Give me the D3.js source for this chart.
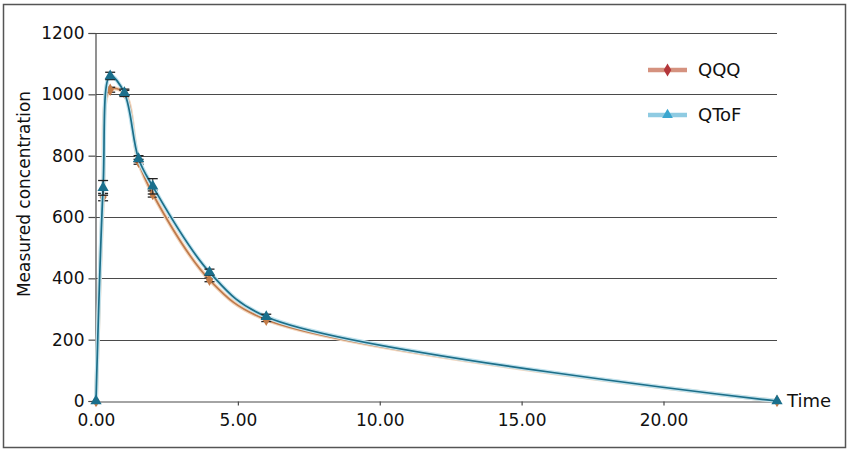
<!DOCTYPE html>
<html>
<head>
<meta charset="utf-8">
<script src="https://cdn.jsdelivr.net/npm/d3@7"></script>
<style>
  body { margin: 0; background: #fff; }
  svg text { font-family: "DejaVu Sans", Verdana, sans-serif; fill: #111; }
</style>
</head>
<body>
<div id="chart"></div>
<script>
// ***** DATA *****
var times = [0, 0.25, 0.5, 1, 1.5, 2, 4, 6, 24];
var qqqValues = [0, 665, 1015, 1005, 780, 675, 395, 265, 0];
var qtofValues = [0, 695, 1060, 1005, 790, 700, 420, 275, 0];
var qqqErrors = [0, 12, 8, 8, 8, 10, 6, 6, 0];
var qtofErrors = [0, 24, 12, 12, 10, 25, 10, 8, 0];
var yTicks = [0, 200, 400, 600, 800, 1000, 1200];
var xTicks = [0, 5, 10, 15, 20];
var seriesNames = ["QQQ", "QToF"];

var width = 851, height = 454;

var svg = d3.select("#chart")
    .append("svg")
    .attr("width", width)
    .attr("height", height);

svg.append("rect")
    .attr("width", width).attr("height", height)
    .attr("fill", "#fff");

// outer frame
svg.append("rect")
    .attr("x", 3.5).attr("y", 4.5)
    .attr("width", 842).attr("height", 443)
    .attr("fill", "none")
    .attr("stroke", "#555")
    .attr("stroke-width", 1.5);

var x = d3.scaleLinear().domain([0, 24]).range([96, 777]);
var y = d3.scaleLinear().domain([0, 1200]).range([401, 33]);

// gridlines
svg.append("g")
    .selectAll("line")
    .data(yTicks.slice(1))
    .enter()
    .append("line")
    .attr("x1", x(0)).attr("x2", x(24))
    .attr("y1", function(d) { return Math.round(y(d)) + 0.5; })
    .attr("y2", function(d) { return Math.round(y(d)) + 0.5; })
    .attr("stroke", "#4a4a4a")
    .attr("stroke-width", 1.2);

// y axis
var yAxis = svg.append("g")
    .attr("transform", "translate(95.5,0)")
    .call(d3.axisLeft(y).tickValues(yTicks).tickSize(7).tickPadding(4)
        .tickFormat(d3.format("d")));
yAxis.select(".domain").attr("stroke", "#4a4a4a").attr("stroke-width", 1.2);
yAxis.selectAll(".tick line").attr("stroke", "#4a4a4a").attr("stroke-width", 1.2);
yAxis.selectAll("text").style("font-size", "17px").attr("fill", "#111");

// x axis
var xAxis = svg.append("g")
    .attr("transform", "translate(0,401.5)")
    .call(d3.axisBottom(x).tickValues(xTicks).tickSize(4).tickPadding(8)
        .tickFormat(d3.format(".2f")));
xAxis.select(".domain").attr("stroke", "#4a4a4a").attr("stroke-width", 1.2);
xAxis.selectAll(".tick line").attr("stroke", "#4a4a4a").attr("stroke-width", 1.2);
xAxis.selectAll("text").style("font-size", "17px").attr("fill", "#111");

// axis titles
svg.append("text")
    .attr("transform", "translate(30,194) rotate(-90)")
    .attr("text-anchor", "middle")
    .style("font-size", "17px")
    .text("Measured concentration");

svg.append("text")
    .attr("x", 787).attr("y", 407)
    .style("font-size", "18px")
    .text("Time");

// ***** SERIES *****
var series = [
    { name: seriesNames[0], values: qqqValues, errors: qqqErrors,
      line: "#bf7a4c", halo: "#f3d6bd", marker: "#c47c48", shape: d3.symbolDiamond },
    { name: seriesNames[1], values: qtofValues, errors: qtofErrors,
      line: "#1c6e88", halo: "#bfe2ee", marker: "#1a6f8c", shape: d3.symbolTriangle }
];

var line = d3.line()
    .x(function(d) { return x(d.t); })
    .y(function(d) { return y(d.v); })
    .curve(d3.curveCatmullRom.alpha(0.5));

series.forEach(function(s) {
    var pts = times.map(function(t, i) { return { t: t, v: s.values[i], e: s.errors[i] }; });
    var g = svg.append("g");

    g.append("path")
        .attr("d", line(pts))
        .attr("fill", "none")
        .attr("stroke", s.halo)
        .attr("stroke-width", 4);
    g.append("path")
        .attr("d", line(pts))
        .attr("fill", "none")
        .attr("stroke", s.line)
        .attr("stroke-width", 1.7);

    // error bars
    var eb = g.selectAll(".err")
        .data(pts.filter(function(d) { return d.e > 0; }))
        .enter()
        .append("g");
    eb.append("line")
        .attr("x1", function(d) { return x(d.t); })
        .attr("x2", function(d) { return x(d.t); })
        .attr("y1", function(d) { return y(d.v + d.e); })
        .attr("y2", function(d) { return y(d.v - d.e); })
        .attr("stroke", "#222").attr("stroke-width", 1);
    [1, -1].forEach(function(sign) {
        eb.append("line")
            .attr("x1", function(d) { return x(d.t) - 5; })
            .attr("x2", function(d) { return x(d.t) + 5; })
            .attr("y1", function(d) { return y(d.v + sign * d.e); })
            .attr("y2", function(d) { return y(d.v + sign * d.e); })
            .attr("stroke", "#222").attr("stroke-width", 1.3);
    });

    g.selectAll(".mk")
        .data(pts)
        .enter()
        .append("path")
        .attr("d", d3.symbol().type(s.shape).size(s.shape === d3.symbolTriangle ? 55 : 45))
        .attr("transform", function(d) { return "translate(" + x(d.t) + "," + y(d.v) + ")"; })
        .attr("fill", s.marker);
});

// ***** LEGEND *****
var legendItems = [
    { name: seriesNames[0], line: "#d5927f", marker: "#b3363a", shape: d3.symbolDiamond, yPos: 70 },
    { name: seriesNames[1], line: "#8fcbe2", marker: "#3ba6cf", shape: d3.symbolTriangle, yPos: 115 }
];

var legend = svg.selectAll(".legend")
    .data(legendItems)
    .enter()
    .append("g")
    .attr("class", "legend")
    .attr("transform", function(d) { return "translate(648," + d.yPos + ")"; });

legend.append("line")
    .attr("x1", 0).attr("x2", 39)
    .attr("stroke", function(d) { return d.line; })
    .attr("stroke-width", 4.5);
legend.append("path")
    .attr("d", function(d) { return d3.symbol().type(d.shape).size(50)(); })
    .attr("transform", "translate(19.5,0)")
    .attr("fill", function(d) { return d.marker; });
legend.append("text")
    .attr("x", 50).attr("dy", "0.35em")
    .style("font-size", "18px")
    .text(function(d) { return d.name; });
</script>
</body>
</html>
